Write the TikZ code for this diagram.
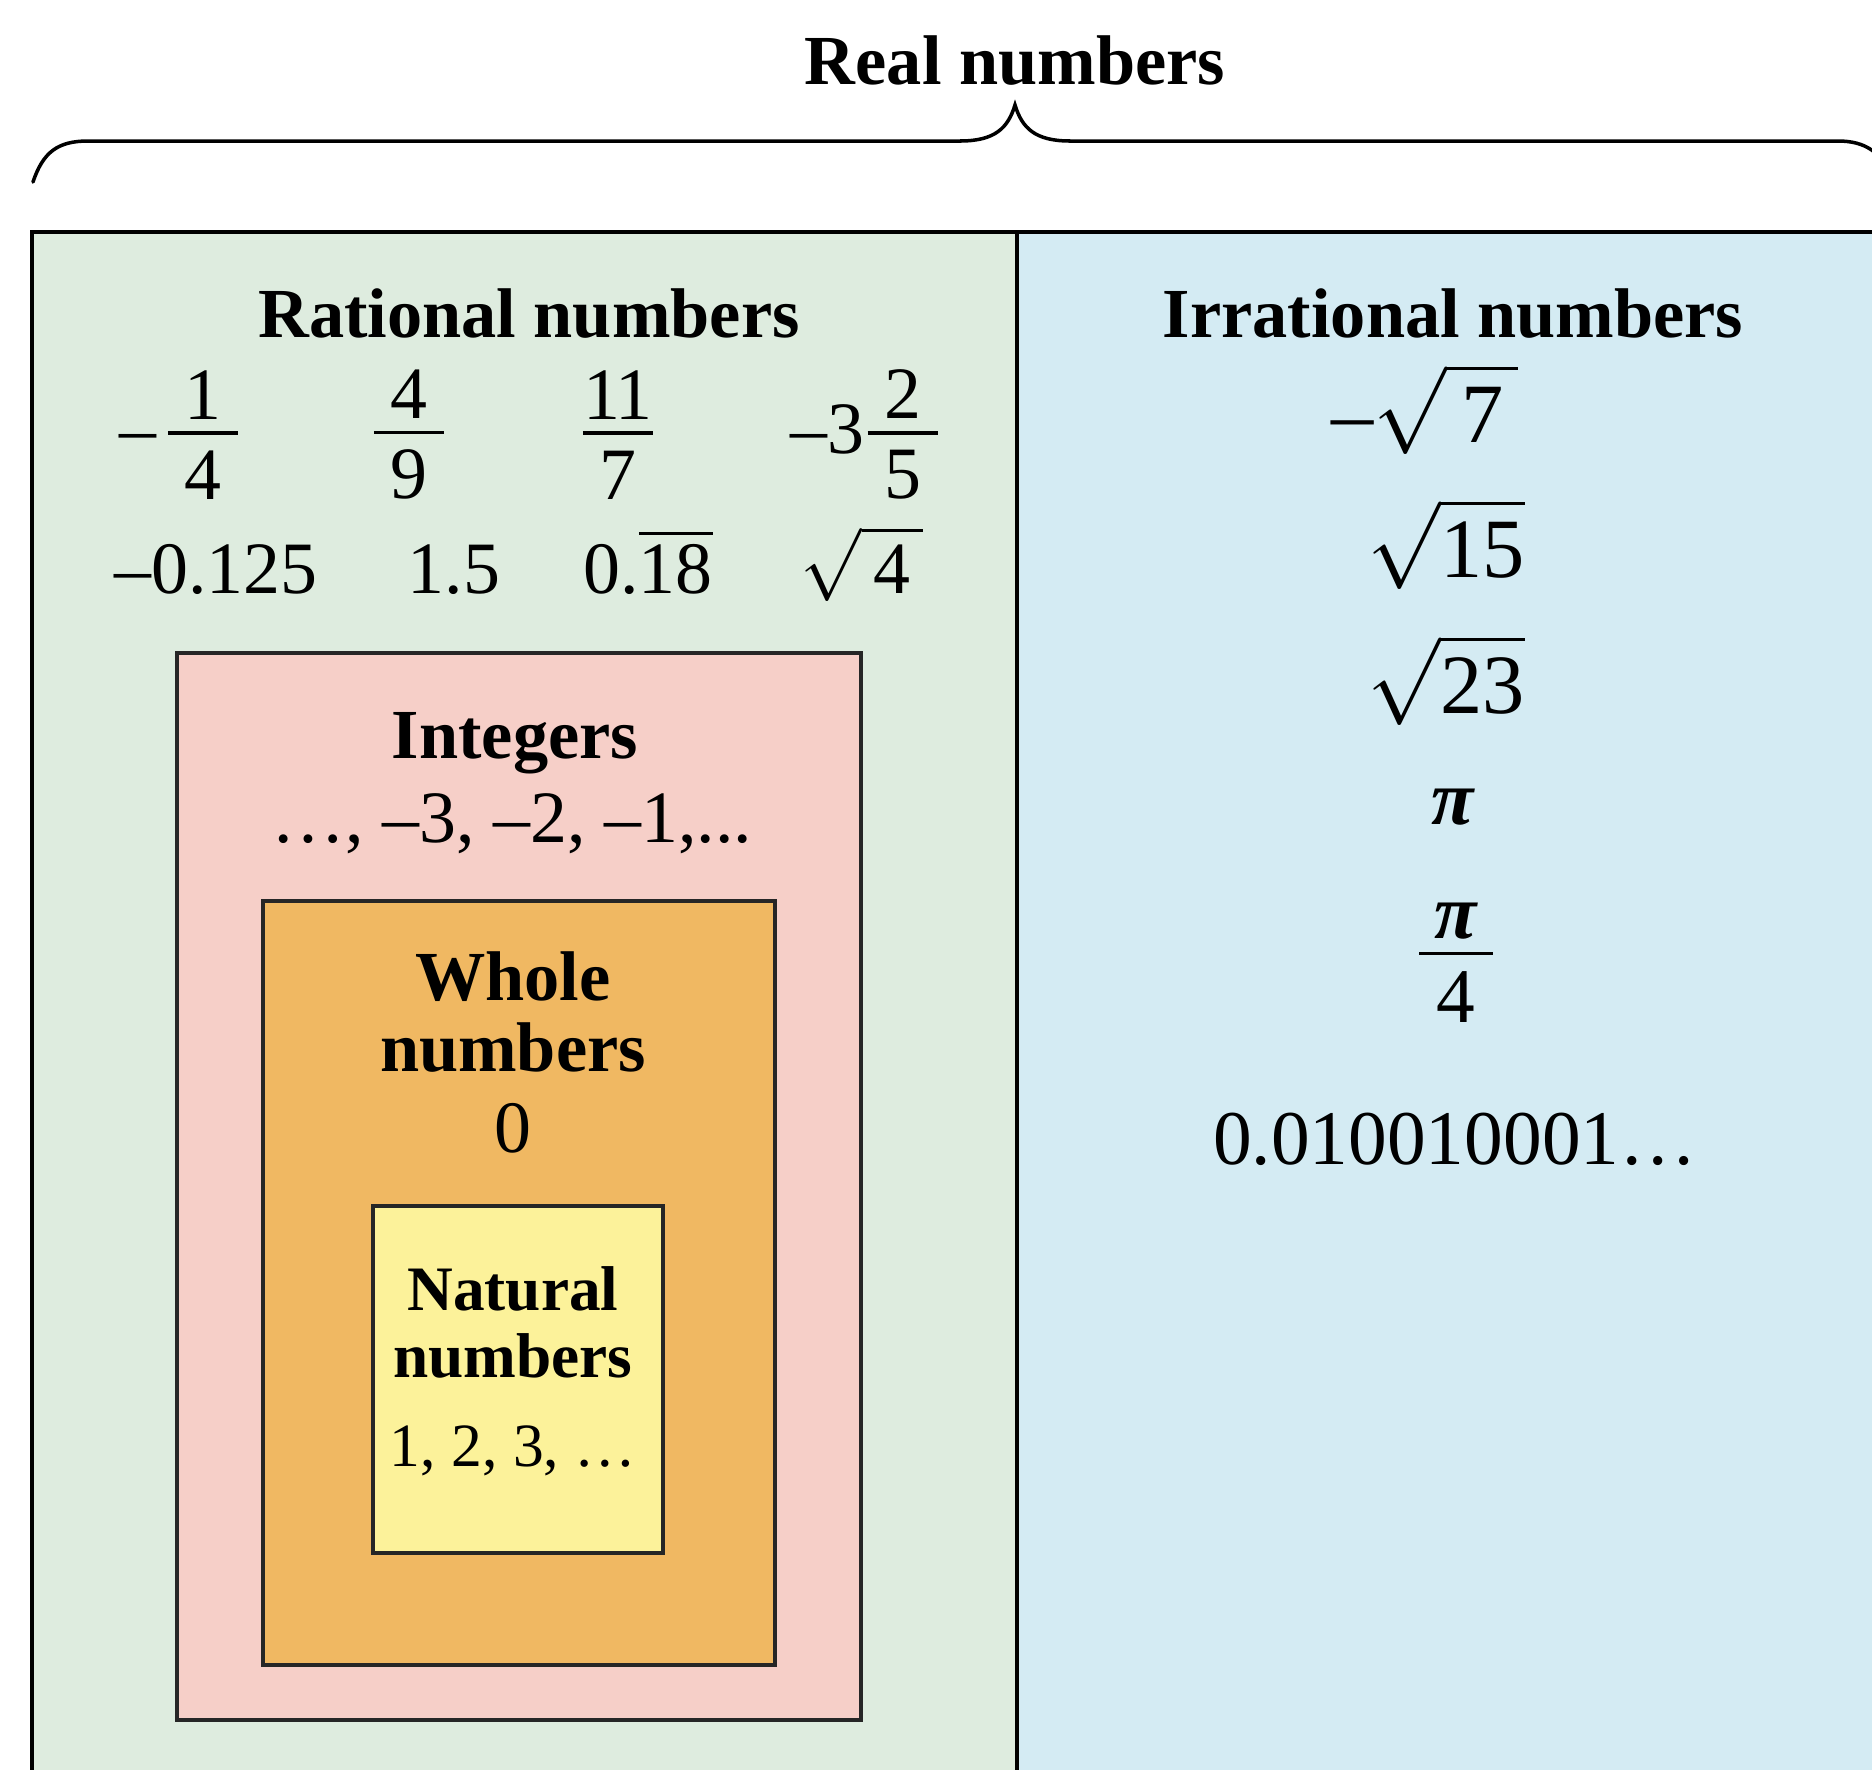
\documentclass[tikz,border=0pt]{standalone}
\usepackage{amsmath}
\usepackage{fontspec}
\setmainfont{Liberation Serif}
\usepackage{tikz}

\definecolor{ratgreen}{RGB}{222,236,223}
\definecolor{irrblue}{RGB}{212,235,243}
\definecolor{intpink}{RGB}{246,207,200}
\definecolor{wholeorange}{RGB}{240,184,98}
\definecolor{natyellow}{RGB}{252,242,154}

\newcommand{\stfrac}[2]{\ensuremath{\vcenter{\offinterlineskip
  \halign{\hbox to 0.95em{\hss##\hss}\cr #1\cr
    \noalign{\kern3.5pt\hrule height 1pt\kern4.5pt}
    #2\cr}}}}

\tikzset{
  head/.style={font=\bfseries\fontsize{20}{21}\selectfont, anchor=base, inner sep=0pt},
  nathead/.style={head, font=\bfseries\fontsize{18}{19}\selectfont},
  num/.style={font=\fontsize{21}{25}\selectfont, anchor=base, inner sep=0pt},
  irr/.style={font=\fontsize{22}{26}\selectfont, anchor=base, inner sep=0pt},
  root/.style={irr, font=\fontsize{24}{28}\selectfont},
  setbox/.style={draw=black!85, line width=0.9pt}
}

\begin{document}
\begin{tikzpicture}[x=0.01cm, y=-0.01cm]
  \useasboundingbox (0,0) rectangle (1872,1769);
  \clip (0,0) rectangle (1872,1769);
  \fill[white] (0,0) rectangle (1872,1769);

  \node[head] (real) at (1015,84) {Real numbers};
  \draw[line width=1pt, line cap=round]
    (33,182) .. controls (43,152) and (58,141) .. (88,141) -- (960,141)
    .. controls (995,141) and (1008,128) .. (1015,105)
    .. controls (1022,128) and (1035,141) .. (1070,141) -- (1838,141)
    .. controls (1865,141) and (1882,152) .. (1894,180);

  \fill[ratgreen] (32,232) rectangle (1017,1800);
  \fill[irrblue] (1017,232) rectangle (1900,1800);
  \draw[line width=1.1pt] (32,1800) -- (32,232) -- (1900,232);
  \draw[line width=0.9pt] (1017,232) -- (1017,1800);

  \filldraw[fill=intpink, setbox] (177,653) rectangle (861,1720);
  \filldraw[fill=wholeorange, setbox] (263,901) rectangle (775,1665);
  \filldraw[fill=natyellow, setbox] (373,1206) rectangle (663,1553);

  \node[head] (rational) at (529,337) {Rational numbers};
  \node[num] (rq1) at (179,453) {–\kern0.15em\stfrac{1}{4}};
  \node[num] (rq2) at (409,453) {\stfrac{4}{9}};
  \node[num] (rq3) at (618,453) {\stfrac{1\kern-0.06em1}{7}};
  \node[num] (rq4) at (864,453) {–3\kern0.05em\stfrac{2}{5}};
  \node[num] (rd1) at (216,593) {–0.125};
  \node[num] (rd2) at (454,593) {1.5};
  \node[num] (rd3) at (648,593) {0.$\overline{\text{18}}$};
  \node[num] (rd4) at (862,593) {$\sqrt{\,\text{4}\,}$};

  \node[head] (integers) at (515,758) {Integers};
  \node[num] (intvals) at (512,842) {…, –3, –2, –1,...};

  \node[head] (wholea) at (513,1000) {Whole};
  \node[head] (wholeb) at (513,1071) {numbers};
  \node[num] (wholevals) at (513,1152) {0};

  \node[nathead] (naturala) at (513,1310) {Natural};
  \node[nathead] (naturalb) at (513,1377) {numbers};
  \node[num, font=\fontsize{17.5}{20}\selectfont] (naturalvals) at (513,1466) {1, 2, 3, …};

  \node[head] (irrational) at (1453,337) {Irrational numbers};
  \node[root] (ir1) at (1425,442) {–$\sqrt{\,\text{7}\,}$};
  \node[root] (ir2) at (1446,577) {$\sqrt{\text{15}}$};
  \node[root] (ir3) at (1446,713) {$\sqrt{\text{23}}$};
  \node[irr] (ir4) at (1453,824) {\bfseries\itshape π};
  \node[irr] (ir5) at (1456,981) {\stfrac{\bfseries\itshape π}{4}};
  \node[irr] (ir6) at (1455,1164) {0.010010001…};
\end{tikzpicture}
\end{document}
